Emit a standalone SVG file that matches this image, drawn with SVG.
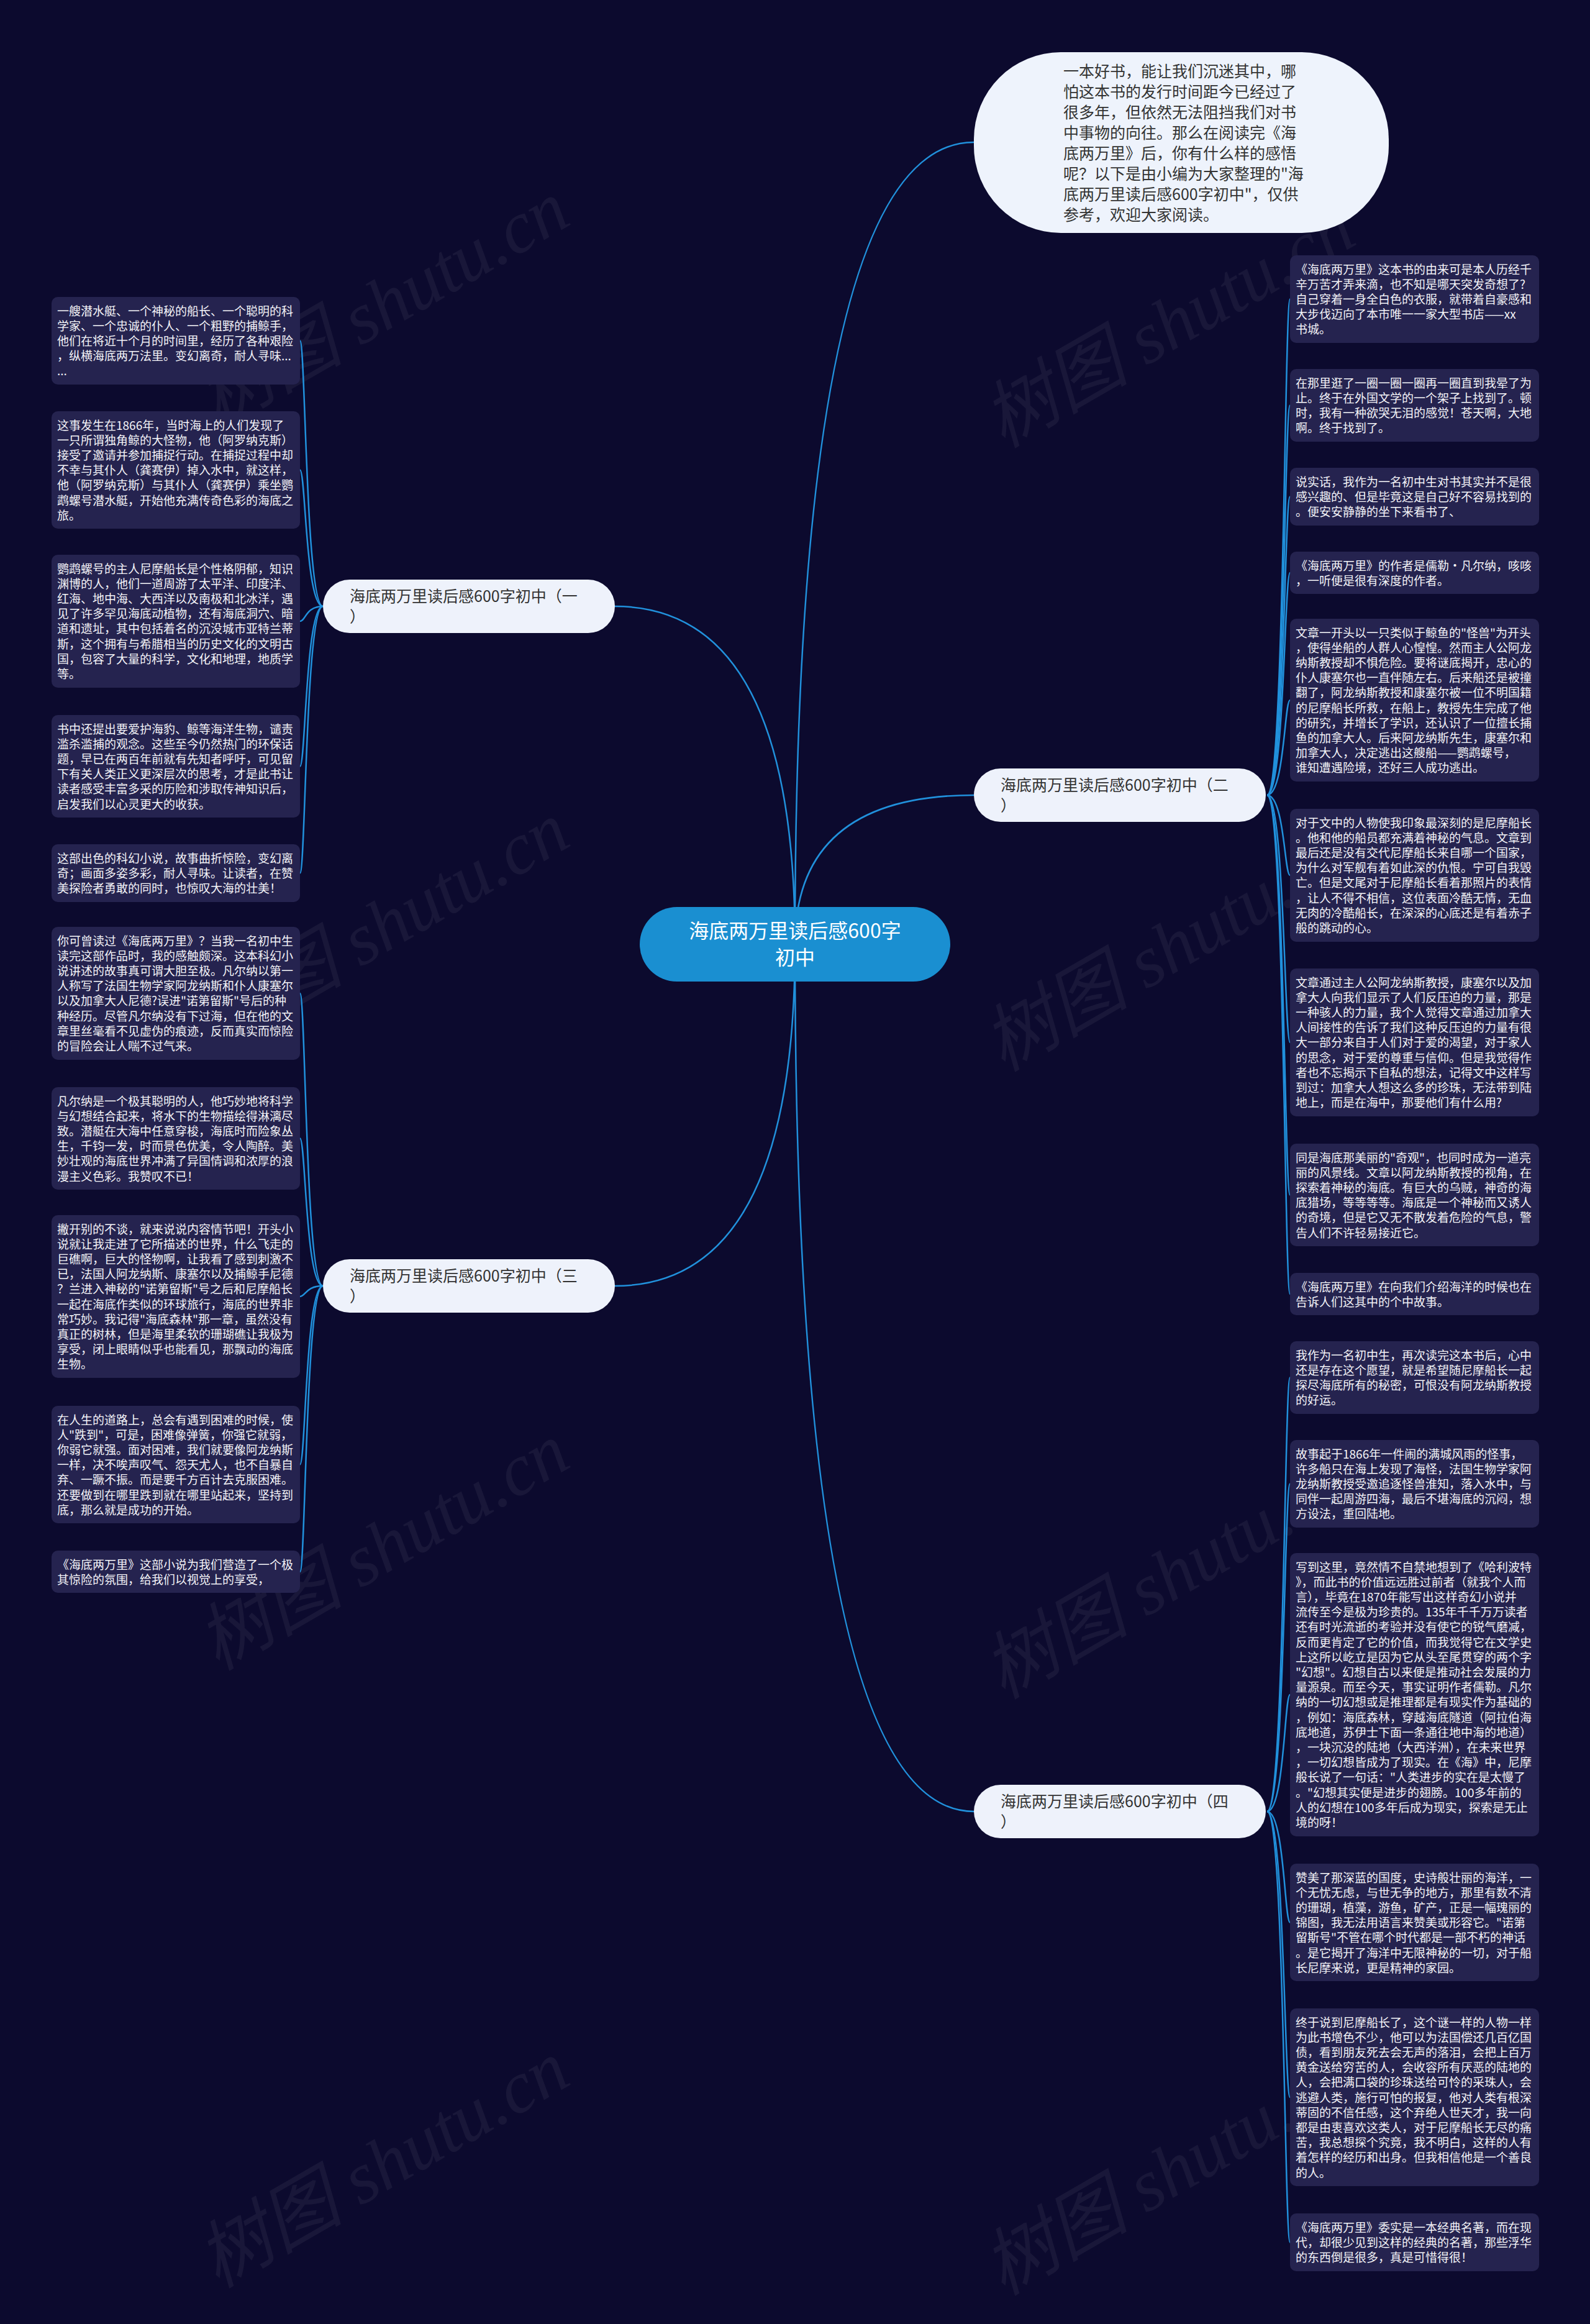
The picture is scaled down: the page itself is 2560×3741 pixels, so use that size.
<svg xmlns="http://www.w3.org/2000/svg" width="2560" height="3741" viewBox="0 0 2560 3741">
<style>
.lt{font-family:"Noto Sans CJK SC","Noto Sans",sans-serif;font-size:19px;fill:#f4f4f8}
.leaf rect{fill:#25234f}
.br rect{fill:#eef2fb}
.bt{font-family:"Noto Sans CJK SC","Noto Sans",sans-serif;font-size:25px;fill:#333333}
.conn path{fill:none;stroke:#2191dc;stroke-width:2.5}
.wm{font-family:"Liberation Serif","Noto Sans CJK SC",serif;font-style:italic;font-size:118px;fill:#ffffff;opacity:0.05}
</style>
<rect width="2560" height="3741" fill="#0c0a2e"/>
<g id="watermarks">
<text class="wm" transform="translate(350,690) rotate(-30)">树图 shutu.cn</text>
<text class="wm" transform="translate(1615,722) rotate(-30)">树图 shutu.cn</text>
<text class="wm" transform="translate(350,1690) rotate(-30)">树图 shutu.cn</text>
<text class="wm" transform="translate(1615,1726) rotate(-30)">树图 shutu.cn</text>
<text class="wm" transform="translate(350,2690) rotate(-30)">树图 shutu.cn</text>
<text class="wm" transform="translate(1615,2736) rotate(-30)">树图 shutu.cn</text>
<text class="wm" transform="translate(350,3684) rotate(-30)">树图 shutu.cn</text>
<text class="wm" transform="translate(1615,3696) rotate(-30)">树图 shutu.cn</text>
</g>
<g id="connectors" class="conn">
<path d="M1280 1520 Q1280 229 1568 229"/>
<path d="M1280 1520 Q1280 976 990 976"/>
<path d="M1280 1520 Q1280 1280 1568 1280"/>
<path d="M1280 1520 Q1280 2070 990 2070"/>
<path d="M1280 1520 Q1280 2916 1568 2916"/>
<path d="M520 976 C492 976 492 548.5 483 548.5"/>
<path d="M520 976 C492 976 492 756.5 483 756.5"/>
<path d="M520 976 C492 976 492 1000 483 1000"/>
<path d="M520 976 C492 976 492 1233.5 483 1233.5"/>
<path d="M520 976 C492 976 492 1405.5 483 1405.5"/>
<path d="M520 2070 C492 2070 492 1599 483 1599"/>
<path d="M520 2070 C492 2070 492 1832.5 483 1832.5"/>
<path d="M520 2070 C492 2070 492 2087 483 2087"/>
<path d="M520 2070 C492 2070 492 2357.5 483 2357.5"/>
<path d="M520 2070 C492 2070 492 2530 483 2530"/>
<path d="M2040 1280 C2068 1280 2068 481.5 2077 481.5"/>
<path d="M2040 1280 C2068 1280 2068 652.5 2077 652.5"/>
<path d="M2040 1280 C2068 1280 2068 799.5 2077 799.5"/>
<path d="M2040 1280 C2068 1280 2068 922 2077 922"/>
<path d="M2040 1280 C2068 1280 2068 1127 2077 1127"/>
<path d="M2040 1280 C2068 1280 2068 1409 2077 1409"/>
<path d="M2040 1280 C2068 1280 2068 1678 2077 1678"/>
<path d="M2040 1280 C2068 1280 2068 1923.5 2077 1923.5"/>
<path d="M2040 1280 C2068 1280 2068 2083 2077 2083"/>
<path d="M2040 2916 C2068 2916 2068 2217.5 2077 2217.5"/>
<path d="M2040 2916 C2068 2916 2068 2388.5 2077 2388.5"/>
<path d="M2040 2916 C2068 2916 2068 2728 2077 2728"/>
<path d="M2040 2916 C2068 2916 2068 3094.5 2077 3094.5"/>
<path d="M2040 2916 C2068 2916 2068 3376 2077 3376"/>
<path d="M2040 2916 C2068 2916 2068 3609.5 2077 3609.5"/>
</g>
<g id="root">
<rect x="1030" y="1460" width="500" height="120" rx="60" fill="#1a8fd1"/>
<text x="1280" y="1510" text-anchor="middle" font-family="Noto Sans CJK SC, sans-serif" font-size="32" fill="#ffffff"><tspan x="1280">海底两万里读后感600字</tspan><tspan x="1280" dy="43">初中</tspan></text>
</g>
<g id="intro">
<rect x="1568" y="84" width="668" height="291" rx="140" fill="#eef3fc"/>
<text class="bt" x="1712" y="123.5"><tspan x="1712">一本好书，能让我们沉迷其中，哪</tspan><tspan x="1712" dy="33">怕这本书的发行时间距今已经过了</tspan><tspan x="1712" dy="33">很多年，但依然无法阻挡我们对书</tspan><tspan x="1712" dy="33">中事物的向往。那么在阅读完《海</tspan><tspan x="1712" dy="33">底两万里》后，你有什么样的感悟</tspan><tspan x="1712" dy="33">呢？以下是由小编为大家整理的"海</tspan><tspan x="1712" dy="33">底两万里读后感600字初中"，仅供</tspan><tspan x="1712" dy="33">参考，欢迎大家阅读。</tspan></text>
</g>
<g id="branch1" class="br">
<rect x="520" y="933" width="470" height="86" rx="43"/>
<text class="bt" x="563" y="969"><tspan x="563">海底两万里读后感600字初中（一</tspan><tspan x="563" dy="33">）</tspan></text>
</g>
<g id="branch2" class="br">
<rect x="1568" y="1237" width="470" height="86" rx="43"/>
<text class="bt" x="1611" y="1273"><tspan x="1611">海底两万里读后感600字初中（二</tspan><tspan x="1611" dy="33">）</tspan></text>
</g>
<g id="branch3" class="br">
<rect x="520" y="2027" width="470" height="86" rx="43"/>
<text class="bt" x="563" y="2063"><tspan x="563">海底两万里读后感600字初中（三</tspan><tspan x="563" dy="33">）</tspan></text>
</g>
<g id="branch4" class="br">
<rect x="1568" y="2873" width="470" height="86" rx="43"/>
<text class="bt" x="1611" y="2909"><tspan x="1611">海底两万里读后感600字初中（四</tspan><tspan x="1611" dy="33">）</tspan></text>
</g>
<g id="L1" class="leaf"><rect x="83" y="478" width="400" height="141" rx="10"/>
<text class="lt" y="507.5"><tspan x="92">一艘潜水艇、一个神秘的船长、一个聪明的科</tspan><tspan x="92" dy="24.2">学家、一个忠诚的仆人、一个粗野的捕鲸手，</tspan><tspan x="92" dy="24.2">他们在将近十个月的时间里，经历了各种艰险</tspan><tspan x="92" dy="24.2">，纵横海底两万法里。变幻离奇，耐人寻味...</tspan><tspan x="92" dy="24.2">...</tspan></text></g>
<g id="L2" class="leaf"><rect x="83" y="662" width="400" height="189" rx="10"/>
<text class="lt" y="691.5"><tspan x="92">这事发生在1866年，当时海上的人们发现了</tspan><tspan x="92" dy="24.2">一只所谓独角鲸的大怪物，他（阿罗纳克斯）</tspan><tspan x="92" dy="24.2">接受了邀请并参加捕捉行动。在捕捉过程中却</tspan><tspan x="92" dy="24.2">不幸与其仆人（龚赛伊）掉入水中，就这样，</tspan><tspan x="92" dy="24.2">他（阿罗纳克斯）与其仆人（龚赛伊）乘坐鹦</tspan><tspan x="92" dy="24.2">鹉螺号潜水艇，开始他充满传奇色彩的海底之</tspan><tspan x="92" dy="24.2">旅。</tspan></text></g>
<g id="L3" class="leaf"><rect x="83" y="893" width="400" height="214" rx="10"/>
<text class="lt" y="922.5"><tspan x="92">鹦鹉螺号的主人尼摩船长是个性格阴郁，知识</tspan><tspan x="92" dy="24.2">渊博的人，他们一道周游了太平洋、印度洋、</tspan><tspan x="92" dy="24.2">红海、地中海、大西洋以及南极和北冰洋，遇</tspan><tspan x="92" dy="24.2">见了许多罕见海底动植物，还有海底洞穴、暗</tspan><tspan x="92" dy="24.2">道和遗址，其中包括着名的沉没城市亚特兰蒂</tspan><tspan x="92" dy="24.2">斯，这个拥有与希腊相当的历史文化的文明古</tspan><tspan x="92" dy="24.2">国，包容了大量的科学，文化和地理，地质学</tspan><tspan x="92" dy="24.2">等。</tspan></text></g>
<g id="L4" class="leaf"><rect x="83" y="1151" width="400" height="165" rx="10"/>
<text class="lt" y="1180.5"><tspan x="92">书中还提出要爱护海豹、鲸等海洋生物，谴责</tspan><tspan x="92" dy="24.2">滥杀滥捕的观念。这些至今仍然热门的环保话</tspan><tspan x="92" dy="24.2">题，早已在两百年前就有先知者呼吁，可见留</tspan><tspan x="92" dy="24.2">下有关人类正义更深层次的思考，才是此书让</tspan><tspan x="92" dy="24.2">读者感受丰富多采的历险和涉取传神知识后，</tspan><tspan x="92" dy="24.2">启发我们以心灵更大的收获。</tspan></text></g>
<g id="L5" class="leaf"><rect x="83" y="1359" width="400" height="93" rx="10"/>
<text class="lt" y="1388.5"><tspan x="92">这部出色的科幻小说，故事曲折惊险，变幻离</tspan><tspan x="92" dy="24.2">奇；画面多姿多彩，耐人寻味。让读者，在赞</tspan><tspan x="92" dy="24.2">美探险者勇敢的同时，也惊叹大海的壮美！</tspan></text></g>
<g id="L6" class="leaf"><rect x="83" y="1492" width="400" height="214" rx="10"/>
<text class="lt" y="1521.5"><tspan x="92">你可曾读过《海底两万里》？当我一名初中生</tspan><tspan x="92" dy="24.2">读完这部作品时，我的感触颇深。这本科幻小</tspan><tspan x="92" dy="24.2">说讲述的故事真可谓大胆至极。凡尔纳以第一</tspan><tspan x="92" dy="24.2">人称写了法国生物学家阿龙纳斯和仆人康塞尔</tspan><tspan x="92" dy="24.2">以及加拿大人尼德?误进"诺第留斯"号后的种</tspan><tspan x="92" dy="24.2">种经历。尽管凡尔纳没有下过海，但在他的文</tspan><tspan x="92" dy="24.2">章里丝毫看不见虚伪的痕迹，反而真实而惊险</tspan><tspan x="92" dy="24.2">的冒险会让人喘不过气来。</tspan></text></g>
<g id="L7" class="leaf"><rect x="83" y="1750" width="400" height="165" rx="10"/>
<text class="lt" y="1779.5"><tspan x="92">凡尔纳是一个极其聪明的人，他巧妙地将科学</tspan><tspan x="92" dy="24.2">与幻想结合起来，将水下的生物描绘得淋漓尽</tspan><tspan x="92" dy="24.2">致。潜艇在大海中任意穿梭，海底时而险象丛</tspan><tspan x="92" dy="24.2">生，千钧一发，时而景色优美，令人陶醉。美</tspan><tspan x="92" dy="24.2">妙壮观的海底世界冲满了异国情调和浓厚的浪</tspan><tspan x="92" dy="24.2">漫主义色彩。我赞叹不已！</tspan></text></g>
<g id="L8" class="leaf"><rect x="83" y="1956" width="400" height="262" rx="10"/>
<text class="lt" y="1985.5"><tspan x="92">撇开别的不谈，就来说说内容情节吧！开头小</tspan><tspan x="92" dy="24.2">说就让我走进了它所描述的世界，什么飞走的</tspan><tspan x="92" dy="24.2">巨礁啊，巨大的怪物啊，让我看了感到刺激不</tspan><tspan x="92" dy="24.2">已，法国人阿龙纳斯、康塞尔以及捕鲸手尼德</tspan><tspan x="92" dy="24.2">？兰进入神秘的"诺第留斯"号之后和尼摩船长</tspan><tspan x="92" dy="24.2">一起在海底作类似的环球旅行，海底的世界非</tspan><tspan x="92" dy="24.2">常巧妙。我记得"海底森林"那一章，虽然没有</tspan><tspan x="92" dy="24.2">真正的树林，但是海里柔软的珊瑚礁让我极为</tspan><tspan x="92" dy="24.2">享受，闭上眼睛似乎也能看见，那飘动的海底</tspan><tspan x="92" dy="24.2">生物。</tspan></text></g>
<g id="L9" class="leaf"><rect x="83" y="2263" width="400" height="189" rx="10"/>
<text class="lt" y="2292.5"><tspan x="92">在人生的道路上，总会有遇到困难的时候，使</tspan><tspan x="92" dy="24.2">人"跌到"，可是，困难像弹簧，你强它就弱，</tspan><tspan x="92" dy="24.2">你弱它就强。面对困难，我们就要像阿龙纳斯</tspan><tspan x="92" dy="24.2">一样，决不唉声叹气、怨天尤人，也不自暴自</tspan><tspan x="92" dy="24.2">弃、一蹶不振。而是要千方百计去克服困难。</tspan><tspan x="92" dy="24.2">还要做到在哪里跌到就在哪里站起来，坚持到</tspan><tspan x="92" dy="24.2">底，那么就是成功的开始。</tspan></text></g>
<g id="L10" class="leaf"><rect x="83" y="2496" width="400" height="68" rx="10"/>
<text class="lt" y="2525.5"><tspan x="92">《海底两万里》这部小说为我们营造了一个极</tspan><tspan x="92" dy="24.2">其惊险的氛围，给我们以视觉上的享受，</tspan></text></g>
<g id="R1" class="leaf"><rect x="2077" y="411" width="401" height="141" rx="10"/>
<text class="lt" y="440.5"><tspan x="2086">《海底两万里》这本书的由来可是本人历经千</tspan><tspan x="2086" dy="24.2">辛万苦才弄来滴，也不知是哪天突发奇想了?</tspan><tspan x="2086" dy="24.2">自己穿着一身全白色的衣服，就带着自豪感和</tspan><tspan x="2086" dy="24.2">大步伐迈向了本市唯一一家大型书店——xx</tspan><tspan x="2086" dy="24.2">书城。</tspan></text></g>
<g id="R2" class="leaf"><rect x="2077" y="594" width="401" height="117" rx="10"/>
<text class="lt" y="623.5"><tspan x="2086">在那里逛了一圈一圈一圈再一圈直到我晕了为</tspan><tspan x="2086" dy="24.2">止。终于在外国文学的一个架子上找到了。顿</tspan><tspan x="2086" dy="24.2">时，我有一种欲哭无泪的感觉！苍天啊，大地</tspan><tspan x="2086" dy="24.2">啊。终于找到了。</tspan></text></g>
<g id="R3" class="leaf"><rect x="2077" y="753" width="401" height="93" rx="10"/>
<text class="lt" y="782.5"><tspan x="2086">说实话，我作为一名初中生对书其实并不是很</tspan><tspan x="2086" dy="24.2">感兴趣的、但是毕竟这是自己好不容易找到的</tspan><tspan x="2086" dy="24.2">。便安安静静的坐下来看书了、</tspan></text></g>
<g id="R4" class="leaf"><rect x="2077" y="888" width="401" height="68" rx="10"/>
<text class="lt" y="917.5"><tspan x="2086">《海底两万里》的作者是儒勒·凡尔纳，咳咳</tspan><tspan x="2086" dy="24.2">，一听便是很有深度的作者。</tspan></text></g>
<g id="R5" class="leaf"><rect x="2077" y="996" width="401" height="262" rx="10"/>
<text class="lt" y="1025.5"><tspan x="2086">文章一开头以一只类似于鲸鱼的"怪兽"为开头</tspan><tspan x="2086" dy="24.2">，使得坐船的人群人心惶惶。然而主人公阿龙</tspan><tspan x="2086" dy="24.2">纳斯教授却不惧危险。要将谜底揭开，忠心的</tspan><tspan x="2086" dy="24.2">仆人康塞尔也一直伴随左右。后来船还是被撞</tspan><tspan x="2086" dy="24.2">翻了，阿龙纳斯教授和康塞尔被一位不明国籍</tspan><tspan x="2086" dy="24.2">的尼摩船长所救，在船上，教授先生完成了他</tspan><tspan x="2086" dy="24.2">的研究，并增长了学识，还认识了一位擅长捕</tspan><tspan x="2086" dy="24.2">鱼的加拿大人。后来阿龙纳斯先生，康塞尔和</tspan><tspan x="2086" dy="24.2">加拿大人，决定逃出这艘船——鹦鹉螺号，</tspan><tspan x="2086" dy="24.2">谁知遭遇险境，还好三人成功逃出。</tspan></text></g>
<g id="R6" class="leaf"><rect x="2077" y="1302" width="401" height="214" rx="10"/>
<text class="lt" y="1331.5"><tspan x="2086">对于文中的人物使我印象最深刻的是尼摩船长</tspan><tspan x="2086" dy="24.2">。他和他的船员都充满着神秘的气息。文章到</tspan><tspan x="2086" dy="24.2">最后还是没有交代尼摩船长来自哪一个国家，</tspan><tspan x="2086" dy="24.2">为什么对军舰有着如此深的仇恨。宁可自我毁</tspan><tspan x="2086" dy="24.2">亡。但是文尾对于尼摩船长看着那照片的表情</tspan><tspan x="2086" dy="24.2">，让人不得不相信，这位表面冷酷无情，无血</tspan><tspan x="2086" dy="24.2">无肉的冷酷船长，在深深的心底还是有着赤子</tspan><tspan x="2086" dy="24.2">般的跳动的心。</tspan></text></g>
<g id="R7" class="leaf"><rect x="2077" y="1559" width="401" height="238" rx="10"/>
<text class="lt" y="1588.5"><tspan x="2086">文章通过主人公阿龙纳斯教授，康塞尔以及加</tspan><tspan x="2086" dy="24.2">拿大人向我们显示了人们反压迫的力量，那是</tspan><tspan x="2086" dy="24.2">一种骇人的力量，我个人觉得文章通过加拿大</tspan><tspan x="2086" dy="24.2">人间接性的告诉了我们这种反压迫的力量有很</tspan><tspan x="2086" dy="24.2">大一部分来自于人们对于爱的渴望，对于家人</tspan><tspan x="2086" dy="24.2">的思念，对于爱的尊重与信仰。但是我觉得作</tspan><tspan x="2086" dy="24.2">者也不忘揭示下自私的想法，记得文中这样写</tspan><tspan x="2086" dy="24.2">到过：加拿大人想这么多的珍珠，无法带到陆</tspan><tspan x="2086" dy="24.2">地上，而是在海中，那要他们有什么用?</tspan></text></g>
<g id="R8" class="leaf"><rect x="2077" y="1841" width="401" height="165" rx="10"/>
<text class="lt" y="1870.5"><tspan x="2086">同是海底那美丽的"奇观"，也同时成为一道亮</tspan><tspan x="2086" dy="24.2">丽的风景线。文章以阿龙纳斯教授的视角，在</tspan><tspan x="2086" dy="24.2">探索着神秘的海底。有巨大的乌贼，神奇的海</tspan><tspan x="2086" dy="24.2">底猎场，等等等等。海底是一个神秘而又诱人</tspan><tspan x="2086" dy="24.2">的奇境，但是它又无不散发着危险的气息，警</tspan><tspan x="2086" dy="24.2">告人们不许轻易接近它。</tspan></text></g>
<g id="R9" class="leaf"><rect x="2077" y="2049" width="401" height="68" rx="10"/>
<text class="lt" y="2078.5"><tspan x="2086">《海底两万里》在向我们介绍海洋的时候也在</tspan><tspan x="2086" dy="24.2">告诉人们这其中的个中故事。</tspan></text></g>
<g id="R10" class="leaf"><rect x="2077" y="2159" width="401" height="117" rx="10"/>
<text class="lt" y="2188.5"><tspan x="2086">我作为一名初中生，再次读完这本书后，心中</tspan><tspan x="2086" dy="24.2">还是存在这个愿望，就是希望随尼摩船长一起</tspan><tspan x="2086" dy="24.2">探尽海底所有的秘密，可恨没有阿龙纳斯教授</tspan><tspan x="2086" dy="24.2">的好运。</tspan></text></g>
<g id="R11" class="leaf"><rect x="2077" y="2318" width="401" height="141" rx="10"/>
<text class="lt" y="2347.5"><tspan x="2086">故事起于1866年一件闹的满城风雨的怪事，</tspan><tspan x="2086" dy="24.2">许多船只在海上发现了海怪，法国生物学家阿</tspan><tspan x="2086" dy="24.2">龙纳斯教授受邀追逐怪兽淮知，落入水中，与</tspan><tspan x="2086" dy="24.2">同伴一起周游四海，最后不堪海底的沉闷，想</tspan><tspan x="2086" dy="24.2">方设法，重回陆地。</tspan></text></g>
<g id="R12" class="leaf"><rect x="2077" y="2500" width="401" height="456" rx="10"/>
<text class="lt" y="2529.5"><tspan x="2086">写到这里，竟然情不自禁地想到了《哈利波特</tspan><tspan x="2086" dy="24.2">》，而此书的价值远远胜过前者（就我个人而</tspan><tspan x="2086" dy="24.2">言），毕竟在1870年能写出这样奇幻小说并</tspan><tspan x="2086" dy="24.2">流传至今是极为珍贵的。135年千千万万读者</tspan><tspan x="2086" dy="24.2">还有时光流逝的考验并没有使它的锐气磨减，</tspan><tspan x="2086" dy="24.2">反而更肯定了它的价值，而我觉得它在文学史</tspan><tspan x="2086" dy="24.2">上这所以屹立是因为它从头至尾贯穿的两个字</tspan><tspan x="2086" dy="24.2">"幻想"。幻想自古以来便是推动社会发展的力</tspan><tspan x="2086" dy="24.2">量源泉。而至今天，事实证明作者儒勒。凡尔</tspan><tspan x="2086" dy="24.2">纳的一切幻想或是推理都是有现实作为基础的</tspan><tspan x="2086" dy="24.2">，例如：海底森林，穿越海底隧道（阿拉伯海</tspan><tspan x="2086" dy="24.2">底地道，苏伊士下面一条通往地中海的地道）</tspan><tspan x="2086" dy="24.2">，一块沉没的陆地（大西洋洲），在未来世界</tspan><tspan x="2086" dy="24.2">，一切幻想皆成为了现实。在《海》中，尼摩</tspan><tspan x="2086" dy="24.2">般长说了一句话："人类进步的实在是太慢了</tspan><tspan x="2086" dy="24.2">。"幻想其实便是进步的翅膀。100多年前的</tspan><tspan x="2086" dy="24.2">人的幻想在100多年后成为现实，探索是无止</tspan><tspan x="2086" dy="24.2">境的呀！</tspan></text></g>
<g id="R13" class="leaf"><rect x="2077" y="3000" width="401" height="189" rx="10"/>
<text class="lt" y="3029.5"><tspan x="2086">赞美了那深蓝的国度，史诗般壮丽的海洋，一</tspan><tspan x="2086" dy="24.2">个无忧无虑，与世无争的地方，那里有数不清</tspan><tspan x="2086" dy="24.2">的珊瑚，植藻，游鱼，矿产，正是一幅瑰丽的</tspan><tspan x="2086" dy="24.2">锦图，我无法用语言来赞美或形容它。"诺第</tspan><tspan x="2086" dy="24.2">留斯号"不管在哪个时代都是一部不朽的神话</tspan><tspan x="2086" dy="24.2">。是它揭开了海洋中无限神秘的一切，对于船</tspan><tspan x="2086" dy="24.2">长尼摩来说，更是精神的家园。</tspan></text></g>
<g id="R14" class="leaf"><rect x="2077" y="3233" width="401" height="286" rx="10"/>
<text class="lt" y="3262.5"><tspan x="2086">终于说到尼摩船长了，这个谜一样的人物一样</tspan><tspan x="2086" dy="24.2">为此书增色不少，他可以为法国偿还几百亿国</tspan><tspan x="2086" dy="24.2">债，看到朋友死去会无声的落泪，会把上百万</tspan><tspan x="2086" dy="24.2">黄金送给穷苦的人，会收容所有厌恶的陆地的</tspan><tspan x="2086" dy="24.2">人，会把满口袋的珍珠送给可怜的采珠人，会</tspan><tspan x="2086" dy="24.2">逃避人类，施行可怕的报复，他对人类有根深</tspan><tspan x="2086" dy="24.2">蒂固的不信任感，这个弃绝人世天才，我一向</tspan><tspan x="2086" dy="24.2">都是由衷喜欢这类人，对于尼摩船长无尽的痛</tspan><tspan x="2086" dy="24.2">苦，我总想探个究竟，我不明白，这样的人有</tspan><tspan x="2086" dy="24.2">着怎样的经历和出身。但我相信他是一个善良</tspan><tspan x="2086" dy="24.2">的人。</tspan></text></g>
<g id="R15" class="leaf"><rect x="2077" y="3563" width="401" height="93" rx="10"/>
<text class="lt" y="3592.5"><tspan x="2086">《海底两万里》委实是一本经典名著，而在现</tspan><tspan x="2086" dy="24.2">代，却很少见到这样的经典的名著，那些浮华</tspan><tspan x="2086" dy="24.2">的东西倒是很多，真是可惜得很！</tspan></text></g>
</svg>
